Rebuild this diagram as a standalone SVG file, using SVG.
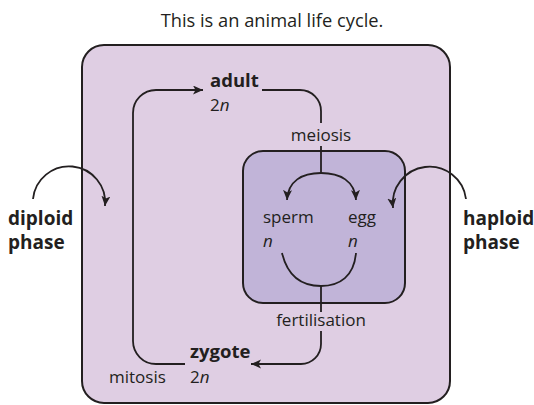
<svg xmlns="http://www.w3.org/2000/svg" width="534" height="405" viewBox="0 0 534 405">
<style>
.t{font-family:"Open Sans","Liberation Sans",sans-serif;fill:#231f20;font-size:17px}
.b{font-weight:bold}
.i{font-style:italic}
.ph{font-size:19px}
.nd{font-size:18.5px}
.ti{font-size:18.3px}
.ln{fill:none;stroke:#231f20;stroke-width:1.8}
.box{stroke:#231f20;stroke-width:2}
</style>
<defs>
<marker id="ah" markerUnits="userSpaceOnUse" markerWidth="12" markerHeight="10" refX="10" refY="4.5" orient="auto">
<path d="M0,0 L10,4.5 L0,9 L2.5,4.5 z" fill="#231f20"/>
</marker>
</defs>
<rect width="534" height="405" fill="#ffffff"/>
<text class="t ti" x="272" y="27" text-anchor="middle">This is an animal life cycle.</text>
<g id="diploid-phase">
<rect class="box" x="82" y="45" width="368" height="358" rx="22" fill="#dfcee3"/>
<text class="t b ph" x="8" y="225">diploid</text>
<text class="t b ph" x="8" y="249">phase</text>
</g>
<g id="haploid-phase">
<rect class="box" x="243" y="151" width="162" height="152" rx="20" fill="#c1b4d8"/>
<text class="t b ph" x="463" y="225">haploid</text>
<text class="t b ph" x="463" y="249">phase</text>
</g>
<g id="adult">
<text class="t b nd" x="210" y="87">adult</text>
<text class="t" x="210" y="111">2<tspan class="i">n</tspan></text>
</g>
<g id="sperm">
<text class="t" x="263" y="223">sperm</text>
<text class="t i" x="263" y="247">n</text>
</g>
<g id="egg">
<text class="t" x="348" y="223">egg</text>
<text class="t i" x="348" y="247">n</text>
</g>
<g id="zygote">
<text class="t b nd" x="190" y="358">zygote</text>
<text class="t" x="190" y="383">2<tspan class="i">n</tspan></text>
</g>
<g id="connectors">
<path class="ln" d="M262,90 H300 A21,21 0 0 1 321,111 V123"/>
<text class="t" x="321" y="141" text-anchor="middle">meiosis</text>
<path class="ln" d="M321,146 V173"/>
<path class="ln" d="M321,173 C302,173 288,181 287,200" marker-end="url(#ah)"/>
<path class="ln" d="M321,173 C340,173 355,181 356,200" marker-end="url(#ah)"/>
<path class="ln" d="M282,253 C288,278 303,286 321,286 C340,286 354,276 356,253"/>
<path class="ln" d="M321,286 V312"/>
<text class="t" x="321" y="326" text-anchor="middle">fertilisation</text>
<path class="ln" d="M321,331 V344 A20,20 0 0 1 301,364 H251" marker-end="url(#ah)"/>
<path class="ln" d="M185,364 H156 A23,23 0 0 1 133,341 V113 A23,23 0 0 1 156,90 H203" marker-end="url(#ah)"/>
<text class="t" x="109" y="383">mitosis</text>
<path class="ln" d="M33,199 A36,36 0 0 1 105,206" marker-end="url(#ah)"/>
<path class="ln" d="M466,199 A36,36 0 0 0 393,208" marker-end="url(#ah)"/>
</g>
</svg>
